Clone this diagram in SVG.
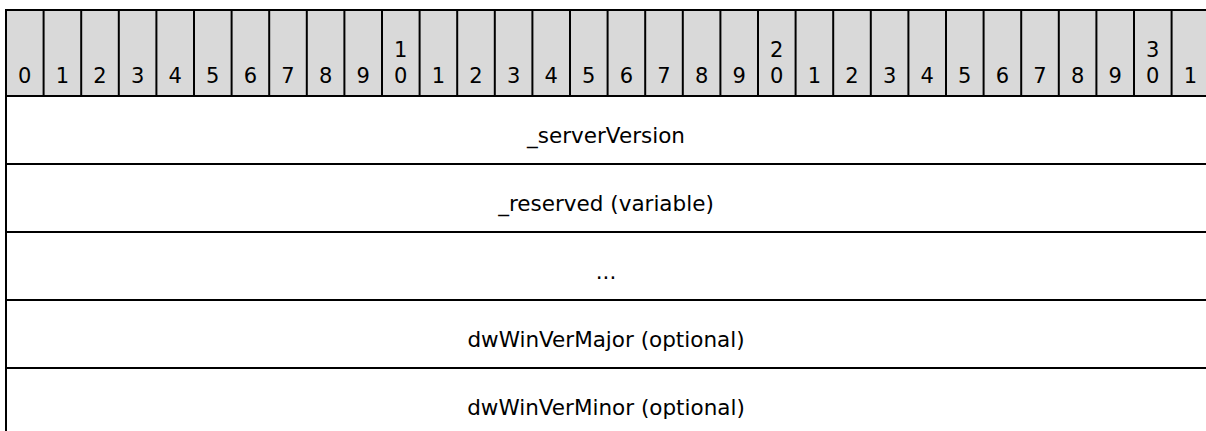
<svg xmlns="http://www.w3.org/2000/svg" width="1206" height="431" viewBox="0 0 1206 431">
<style>
.hdr{fill:#d9d9d9;stroke:#000;stroke-width:2}
.ln{stroke:#000;stroke-width:2;fill:none}
.d{font-family:"DejaVu Sans",Verdana,sans-serif;font-size:21px;fill:#000;text-anchor:middle}
.f{font-family:"DejaVu Sans",Verdana,sans-serif;font-size:21.5px;fill:#000;text-anchor:middle}
</style>
<rect width="1206" height="431" fill="#fff"/>
<g id="header">
<rect class="hdr" x="6" y="10" width="1210" height="86"/>
<g class="ln">
<line x1="43.6" y1="10" x2="43.6" y2="96"/><line x1="81.2" y1="10" x2="81.2" y2="96"/><line x1="118.8" y1="10" x2="118.8" y2="96"/><line x1="156.4" y1="10" x2="156.4" y2="96"/><line x1="194" y1="10" x2="194" y2="96"/><line x1="231.6" y1="10" x2="231.6" y2="96"/><line x1="269.2" y1="10" x2="269.2" y2="96"/><line x1="306.8" y1="10" x2="306.8" y2="96"/><line x1="344.4" y1="10" x2="344.4" y2="96"/><line x1="382" y1="10" x2="382" y2="96"/><line x1="419.6" y1="10" x2="419.6" y2="96"/><line x1="457.2" y1="10" x2="457.2" y2="96"/><line x1="494.8" y1="10" x2="494.8" y2="96"/><line x1="532.4" y1="10" x2="532.4" y2="96"/><line x1="570" y1="10" x2="570" y2="96"/><line x1="607.6" y1="10" x2="607.6" y2="96"/><line x1="645.2" y1="10" x2="645.2" y2="96"/><line x1="682.8" y1="10" x2="682.8" y2="96"/><line x1="720.4" y1="10" x2="720.4" y2="96"/><line x1="758" y1="10" x2="758" y2="96"/><line x1="795.6" y1="10" x2="795.6" y2="96"/><line x1="833.2" y1="10" x2="833.2" y2="96"/><line x1="870.8" y1="10" x2="870.8" y2="96"/><line x1="908.4" y1="10" x2="908.4" y2="96"/><line x1="946" y1="10" x2="946" y2="96"/><line x1="983.6" y1="10" x2="983.6" y2="96"/><line x1="1021.2" y1="10" x2="1021.2" y2="96"/><line x1="1058.8" y1="10" x2="1058.8" y2="96"/><line x1="1096.4" y1="10" x2="1096.4" y2="96"/><line x1="1134" y1="10" x2="1134" y2="96"/><line x1="1171.6" y1="10" x2="1171.6" y2="96"/>
</g>
<g class="d">
<text x="24.8" y="83">0</text><text x="62.4" y="83">1</text><text x="100" y="83">2</text><text x="137.6" y="83">3</text><text x="175.2" y="83">4</text><text x="212.8" y="83">5</text><text x="250.4" y="83">6</text><text x="288" y="83">7</text><text x="325.6" y="83">8</text><text x="363.2" y="83">9</text>
<text x="400.8" y="57">1</text><text x="400.8" y="83">0</text>
<text x="438.4" y="83">1</text><text x="476" y="83">2</text><text x="513.6" y="83">3</text><text x="551.2" y="83">4</text><text x="588.8" y="83">5</text><text x="626.4" y="83">6</text><text x="664" y="83">7</text><text x="701.6" y="83">8</text><text x="739.2" y="83">9</text>
<text x="776.8" y="57">2</text><text x="776.8" y="83">0</text>
<text x="814.4" y="83">1</text><text x="852" y="83">2</text><text x="889.6" y="83">3</text><text x="927.2" y="83">4</text><text x="964.8" y="83">5</text><text x="1002.4" y="83">6</text><text x="1040" y="83">7</text><text x="1077.6" y="83">8</text><text x="1115.2" y="83">9</text>
<text x="1152.8" y="57">3</text><text x="1152.8" y="83">0</text>
<text x="1190.4" y="83">1</text>
</g>
</g>
<g id="connectors" class="ln">
<line x1="6" y1="10" x2="6" y2="431"/>
<line x1="6" y1="164" x2="1206" y2="164"/>
<line x1="6" y1="232" x2="1206" y2="232"/>
<line x1="6" y1="300" x2="1206" y2="300"/>
<line x1="6" y1="368" x2="1206" y2="368"/>
</g>
<g id="f_serverVersion"><text class="f" x="606" y="143">_serverVersion</text></g>
<g id="f_reserved"><text class="f" x="606" y="211">_reserved (variable)</text></g>
<g id="f_ellipsis"><text class="f" x="606" y="279">...</text></g>
<g id="f_dwWinVerMajor"><text class="f" x="606" y="347">dwWinVerMajor (optional)</text></g>
<g id="f_dwWinVerMinor"><text class="f" x="606" y="415">dwWinVerMinor (optional)</text></g>
</svg>
